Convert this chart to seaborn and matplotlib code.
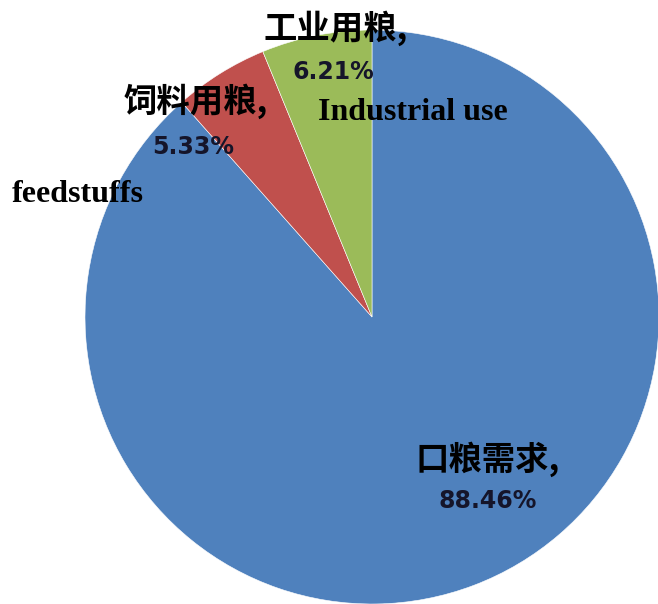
import matplotlib
matplotlib.use("Agg")
import matplotlib.pyplot as plt
import seaborn as sns

# Grain demand structure
categories = ["口粮需求", "饲料用粮", "工业用粮"]
shares = [88.46, 5.33, 6.21]
english_names = ["", "feedstuffs", "Industrial use"]
colors = ["#4F81BD", "#C0504D", "#9BBB59"]

sns.set_theme(style="white")
plt.rcParams["font.family"] = ["Noto Sans CJK SC", "DejaVu Sans"]

W, H = 658, 604
fig = plt.figure(figsize=(W / 100, H / 100), dpi=100)
ax = fig.add_axes([0, 0, 1, 1])

# pie centre and radius in pixels
cx, cy, r = 372, 317, 287

ax.pie(shares, colors=colors, startangle=90, counterclock=False,
       radius=1.0, center=(0, 0),
       wedgeprops=dict(edgecolor="white", linewidth=0.4))

ax.set_xlim(-cx / r, (W - cx) / r)
ax.set_ylim(-(H - cy) / r, cy / r)
ax.set_aspect("auto")
ax.axis("off")


def P(px, py):
    return (px - cx) / r, (cy - py) / r


cjk = dict(fontsize=24, fontweight="bold", color="black",
           family=["Noto Sans CJK SC", "DejaVu Sans"], ha="center", va="center")
pct = dict(fontsize=17, fontweight="bold", color="#15152a",
           family=["DejaVu Sans"], ha="center", va="center")
eng = dict(fontsize=23, fontweight="bold", color="black",
           family=["Liberation Serif"], ha="left", va="center")

label_pos = [(488, 459), (196, 101), (336, 28)]
pct_pos = [(488, 501), (193, 147), (333, 72)]
for name, val, lp, pp in zip(categories, shares, label_pos, pct_pos):
    ax.text(*P(*lp), f"{name},", **cjk)
    ax.text(*P(*pp), f"{val:.2f}%", **pct)

ax.text(*P(318, 113), english_names[2], **eng)
ax.text(*P(12, 194), english_names[1], **eng)

fig.savefig("out.png", dpi=100)
